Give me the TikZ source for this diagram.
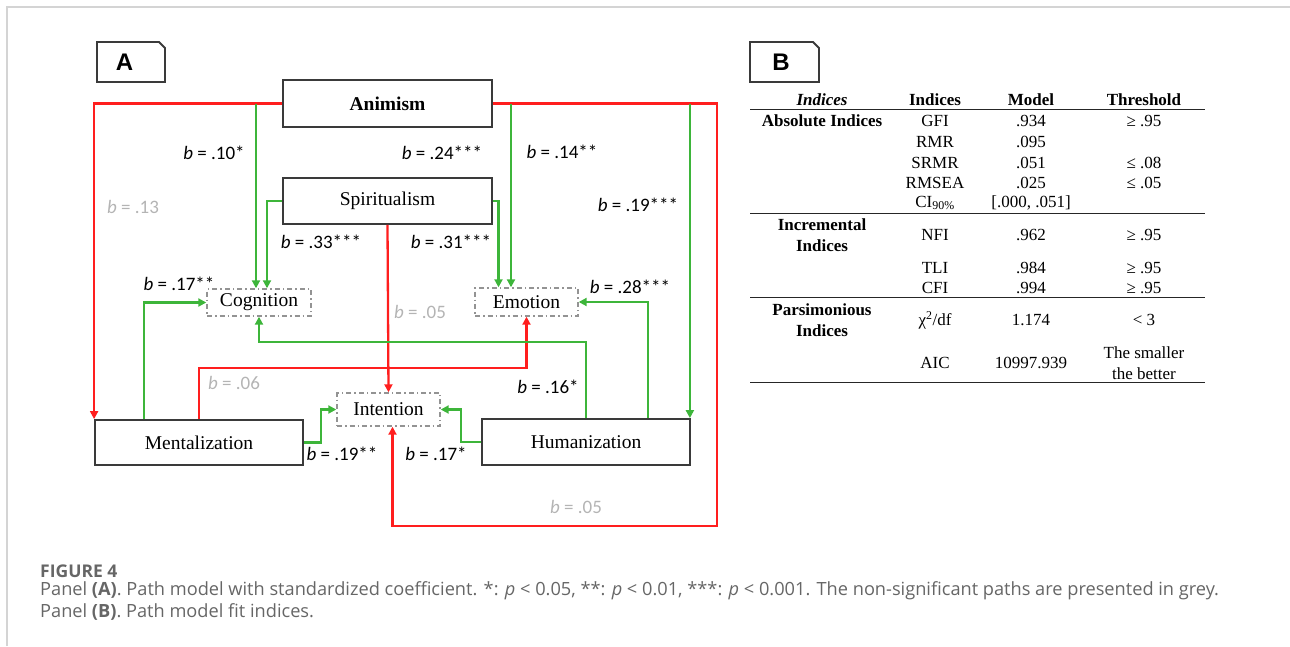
\documentclass[tikz,border=0pt]{standalone}
\usepackage{fontspec}
\setmainfont{Liberation Serif}
\newfontfamily\calib{Carlito}
\newfontfamily\capsans{Open Sans}
\newfontfamily\tabsans{Liberation Sans}
\usepackage{tikz}
\usetikzlibrary{arrows.meta,positioning,calc}
\definecolor{Grn}{HTML}{3DB53A}
\definecolor{Rd}{HTML}{FF1E1E}
\definecolor{Ns}{HTML}{B4B4B4}
\definecolor{Edge}{HTML}{3A3A3A}
\definecolor{Cap}{HTML}{666666}
\definecolor{Frame}{HTML}{D4D4D4}

\begin{document}
\begin{tikzpicture}[x=1pt,y=-1pt,>={Triangle[length=8pt,width=8pt]},
  var/.style={draw=Edge,line width=1.8pt,inner sep=0pt,font=\fontsize{19.5}{23}\selectfont},
  med/.style={draw=gray!85,line width=1.4pt,dash pattern=on 5pt off 3pt on 1.5pt off 3pt,inner sep=0pt,font=\fontsize{19.5}{23}\selectfont},
  gp/.style={draw=Grn,line width=2.3pt,->},
  rp/.style={draw=Rd,line width=2.3pt,->},
  coef/.style={font=\calib\fontsize{19}{22}\selectfont,inner sep=0pt},
  ns/.style={coef,text=Ns},
  cell/.style={font=\fontsize{17}{21}\selectfont,inner sep=0pt,align=center},
  rule/.style={draw=black!85,line width=1.9pt},
  tab/.style={font=\tabsans\bfseries\fontsize{24}{24}\selectfont,inner sep=0pt}]
  \useasboundingbox (0,0) rectangle (1290,646);
  \draw[Frame,line width=1.6pt] (7,646) -- (7,7) -- (1290,7);

  % panel A: path model
  \node[tab] (pa) at (124.5,62) {A};
  \draw[Edge,line width=1.8pt] (97,82) -- (97,42) -- (159,42) -- (165,48) -- (165,82) -- cycle;

  \node[var,minimum width=209,minimum height=47] (anim) at (387.5,103.5) {\bfseries Animism};
  \node[var,minimum width=209,minimum height=46] (spir) at (387.5,201) {Spiritualism};
  \node[med,minimum width=104,minimum height=27] (cog) at (259,302.5) {Cognition};
  \node[med,minimum width=103,minimum height=28] (emo) at (526.5,302) {Emotion};
  \node[med,minimum width=103,minimum height=33] (int) at (388.5,409.5) {Intention};
  \node[var,minimum width=208,minimum height=45] (ment) at (199,442.5) {Mentalization};
  \node[var,minimum width=208,minimum height=46] (hum) at (586,442) {Humanization};
  \coordinate (rc) at (717,526);
  \coordinate (hc) at (586,342);
  \coordinate (mc) at (199,368);

  % red (non-significant) paths
  \draw[rp] (anim.west) -| (ment.north west);
  \draw[rp] (anim.east) -| (rc) -| ([xshift=4]int.south);
  \draw[rp] (spir.south) -- (int.north);
  \draw[rp] (ment.north) -- (mc) -| (emo.south);
  % green (significant) paths
  \draw[gp] ([xshift=-3]cog.north |- anim.west) -- ([xshift=-3]cog.north);
  \draw[gp] (spir.west) -| ([xshift=8]cog.north);
  \draw[gp] (spir.east) -| ([xshift=-28]emo.north);
  \draw[gp] ([xshift=-15.5]emo.north |- anim.east) -- ([xshift=-15.5]emo.north);
  \draw[gp] ([xshift=-1]hum.north east |- anim.east) -- ([xshift=-1]hum.north east);
  \draw[gp] ([xshift=-55]ment.north) |- (cog.west);
  \draw[gp] (hum.north) -- (hc) -| (cog.south);
  \draw[gp] ([xshift=62]hum.north) |- (emo.east);
  \draw[gp] (ment.east) -- ++(17,0) |- (int.west);
  \draw[gp] (hum.west) -- ++(-20,0) |- (int.east);

  \node[coef] (b10) at (214,153) {{\itshape b} = .10*};
  \node[coef] (b24) at (442,153) {{\itshape b} = .24***};
  \node[ns] (b13) at (133,207) {{\itshape b} = .13};
  \node[coef] (b14) at (562,152) {{\itshape b} = .14**};
  \node[coef] (b19a) at (638,205) {{\itshape b} = .19***};
  \node[coef] (b33) at (321,242) {{\itshape b} = .33***};
  \node[coef] (b31) at (451,242) {{\itshape b} = .31***};
  \node[coef] (b17a) at (179,284) {{\itshape b} = .17**};
  \node[ns] (b05a) at (420,312) {{\itshape b} = .05};
  \node[coef] (b28) at (630,287) {{\itshape b} = .28***};
  \node[ns] (b06) at (234,383) {{\itshape b} = .06};
  \node[coef] (b16) at (548,387) {{\itshape b} = .16*};
  \node[coef] (b19b) at (342,454) {{\itshape b} = .19**};
  \node[coef] (b17b) at (436,454) {{\itshape b} = .17*};
  \node[ns] (b05b) at (576,507) {{\itshape b} = .05};

  % panel B: fit indices
  \node[tab] (pb) at (781,62) {B};
  \draw[Edge,line width=1.8pt] (750,82) -- (750,42) -- (813,42) -- (819,48) -- (819,82) -- cycle;

  \node[cell] (h1) at (822,100) {\bfseries\itshape Indices};
  \node[cell] (h2) at (935,100) {\bfseries Indices};
  \node[cell] (h3) at (1031,100) {\bfseries Model};
  \node[cell] (h4) at (1144,100) {\bfseries Threshold};
  \draw[rule] (750,109.5) -- (1205,109.5);
  \foreach \y/\ix/\mv/\th in {121/GFI/.934/≥ .95, 142/RMR/.095/{}, 163/SRMR/.051/≤ .08,
      183/RMSEA/.025/≤ .05, 203/CI\textsubscript{90\%}/{[.000, .051]}/{},
      235/NFI/.962/≥ .95, 268/TLI/.984/≥ .95, 288/CFI/.994/≥ .95,
      320/{χ\textsuperscript{2}/df}/1.174/< 3, 363/AIC/10997.939/{The smaller\\the better}}{
    \node[cell] (ix\y) at (935,\y) {\ix};
    \node[cell] (mv\y) at (1031,\y) {\mv};
    \node[cell] (th\y) at (1144,\y) {\th};
  }
  \node[cell] (grp1) at (822,121) {\bfseries Absolute Indices};
  \node[cell] (grp2) at (822,235.5) {\bfseries Incremental\\\bfseries Indices};
  \node[cell] (grp3) at (822,320) {\bfseries Parsimonious\\\bfseries Indices};
  \draw[rule] (750,213.5) -- (1205,213.5);
  \draw[rule] (750,297.5) -- (1205,297.5);
  \draw[rule] (750,382.5) -- (1205,382.5);

  % caption
  \node[anchor=west,inner sep=0pt,text=Cap,font=\capsans\bfseries\fontsize{17.5}{20}\selectfont] (fig) at (40,571) {FIGURE 4};
  \node[anchor=west,inner sep=0pt,text=Cap,font=\capsans\fontsize{18.2}{22}\selectfont] (cap1) at (40,591)
    {Panel \textbf{(A)}. Path model with standardized coefficient. *: \textit{p} < 0.05, **: \textit{p} < 0.01, ***: \textit{p} < 0.001. The non-significant paths are presented in grey.};
  \node[anchor=west,inner sep=0pt,text=Cap,font=\capsans\fontsize{18.2}{22}\selectfont] (cap2) at (40,612)
    {Panel \textbf{(B)}. Path model fit indices.};
\end{tikzpicture}
\end{document}
